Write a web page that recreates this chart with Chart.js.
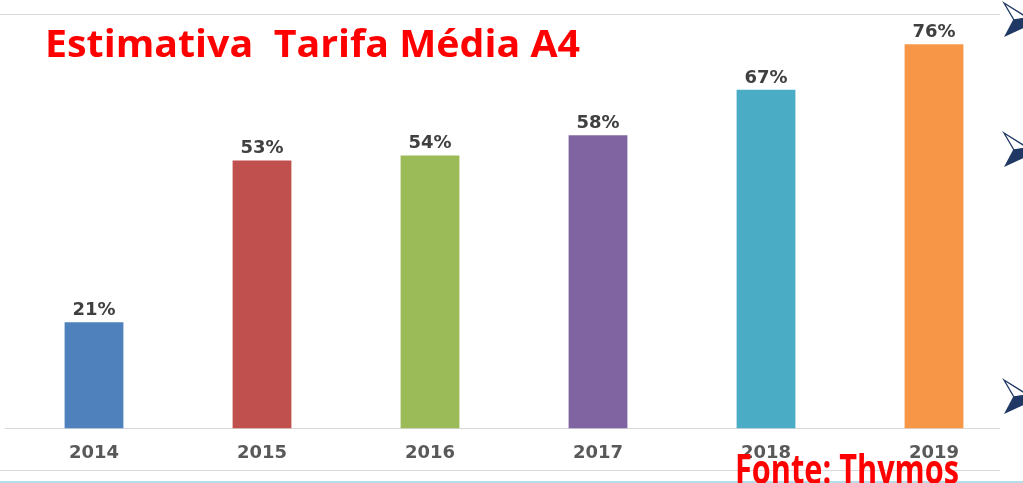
<!DOCTYPE html>
<html>
<head>
<meta charset="utf-8">
<script src="https://cdn.jsdelivr.net/npm/chart.js@4/dist/chart.umd.min.js"></script>
<style>
  html, body { margin: 0; padding: 0; background: #fff; }
  #wrap { width: 1023px; height: 483px; position: relative; }
</style>
</head>
<body>
<div id="wrap"><canvas id="chart"></canvas></div>
<script>
// dados do gráfico
const anos = ['2014', '2015', '2016', '2017', '2018', '2019'];
const tarifa = [21, 53, 54, 58, 67, 76];
const cores = ['#4F81BD', '#C0504D', '#9BBB59', '#8064A2', '#4BACC6', '#F79646'];
const titulo = 'Estimativa  Tarifa Média A4';
const fonte = 'Fonte: Thymos';

// texto esticado na horizontal para caber numa largura
function textoLargura(ctx, txt, x, y, largura, font, cor) {
    ctx.save();
    ctx.font = font;
    const w = ctx.measureText(txt).width;
    ctx.translate(x, y);
    ctx.scale(largura / w, 1);
    ctx.fillStyle = cor;
    ctx.textBaseline = 'alphabetic';
    ctx.textAlign = 'left';
    ctx.fillText(txt, 0, 0);
    ctx.restore();
}

function seta(ctx, x, y) {
    // pequena seta decorativa à direita
    ctx.save();
    ctx.strokeStyle = '#1F3864';
    ctx.fillStyle = '#1F3864';
    ctx.lineWidth = 1.3;
    ctx.beginPath();
    ctx.moveTo(x, y);
    ctx.lineTo(x + 24, y + 15);
    ctx.lineTo(x + 10, y + 17);
    ctx.closePath();
    ctx.stroke();
    ctx.beginPath();
    ctx.moveTo(x + 9, y + 17);
    ctx.lineTo(x + 26, y + 14);
    ctx.lineTo(x + 26, y + 22);
    ctx.lineTo(x, y + 34);
    ctx.closePath();
    ctx.fill();
    ctx.restore();
}

const decoracao = {
    id: 'decoracao',
    beforeDraw(chart) {
        const ctx = chart.ctx;
        const area = chart.chartArea;
        ctx.save();
        ctx.lineWidth = 1;
        ctx.strokeStyle = '#D9D9D9';
        ctx.beginPath();
        ctx.moveTo(0, 14.5); ctx.lineTo(1000, 14.5);
        ctx.moveTo(5, Math.round(area.bottom) + 0.5); ctx.lineTo(1000, Math.round(area.bottom) + 0.5);
        ctx.moveTo(0, 470.5); ctx.lineTo(1000, 470.5);
        ctx.stroke();
        ctx.strokeStyle = '#B7DEE8';
        ctx.lineWidth = 2;
        ctx.beginPath();
        ctx.moveTo(0, 482); ctx.lineTo(1023, 482);
        ctx.stroke();
        ctx.restore();
    },
    afterDraw(chart) {
        const ctx = chart.ctx;
        // rótulos dos valores
        const meta = chart.getDatasetMeta(0);
        ctx.save();
        ctx.font = 'bold 18px "DejaVu Sans"';
        ctx.fillStyle = '#404040';
        ctx.textAlign = 'center';
        ctx.textBaseline = 'alphabetic';
        meta.data.forEach((bar, i) => {
            const p = bar.getProps(['x', 'y'], true);
            ctx.fillText(tarifa[i] + '%', p.x, p.y - 7);
        });
        ctx.restore();

        textoLargura(ctx, titulo, 45, 57, 535, 'bold 38px "Open Sans"', '#FF0000');
        textoLargura(ctx, fonte, 735, 484, 224, 'bold 42px "Open Sans"', '#FF0000');

        seta(ctx, 1004, 3);
        seta(ctx, 1004, 133);
        seta(ctx, 1004, 380);
    }
};

new Chart(document.getElementById('chart'), {
    type: 'bar',
    data: {
        labels: anos,
        datasets: [{
            data: tarifa,
            backgroundColor: cores,
            barPercentage: 0.35,
            categoryPercentage: 1
        }]
    },
    options: {
        responsive: true,
        maintainAspectRatio: false,
        animation: false,
        layout: { padding: { left: 10, right: 5, top: 24, bottom: 13 } },
        plugins: {
            legend: { display: false },
            title: { display: false },
            tooltip: { enabled: false }
        },
        scales: {
            x: {
                grid: { display: false },
                border: { display: false },
                ticks: {
                    padding: 6,
                    color: '#595959',
                    font: { family: 'DejaVu Sans', size: 18, weight: 'bold' }
                }
            },
            y: {
                display: false,
                min: 0,
                max: 80
            }
        }
    },
    plugins: [decoracao]
});
</script>
</body>
</html>
